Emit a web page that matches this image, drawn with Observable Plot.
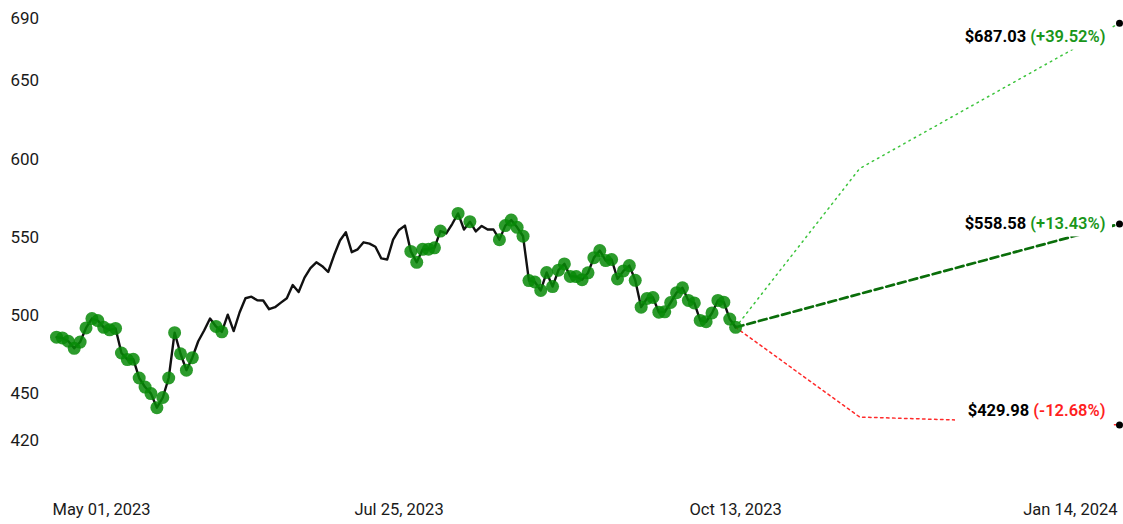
<!DOCTYPE html>
<html><head><meta charset="utf-8">
<script src="https://cdn.jsdelivr.net/npm/d3@7"></script>
<script src="https://cdn.jsdelivr.net/npm/@observablehq/plot@0.6"></script>
<style>
body{margin:0;background:#fff;}
#chart svg{display:block;}
</style></head><body><div id="chart"></div>
<script>
// Daily closes, trading days May 01 2023 .. Oct 13 2023 (index 0..115)
const closes = [
  486.1,485.6,483.5,479,483,492,498,496.7,492.4,490.8,
  491.7,476,471.8,472,460,454.2,450,441,447.5,460,
  489,475.5,465,473,483.5,490.4,498,493,489.5,500.5,
  490,501.9,511,512,509.7,509.6,504,505.3,508.2,511,
  519.5,515,524.2,530.3,534,531.5,527.8,538.5,548,553.2,
  540.5,542.3,546.8,546,544,536.5,535.8,548.5,554.7,557.5,
  541,534,542.3,542.4,543.3,554,552.5,558.5,565.3,555,
  560,553.8,557.3,555,555,548.5,557.5,561,556.4,550.7,
  522.3,521.4,516,527.5,518.5,529,533,525,524.9,522.9,
  527.3,537,541.5,535.1,535.8,523.4,528.5,531.9,522.5,505.3,
  510.9,511.5,502.1,502.3,508.3,514.6,517.7,509.6,508,496.8,
  496,501.6,509.6,508.5,497.7,492.42
];
// 1 = highlighted session (green marker)
const signal = [
  1,1,1,1,1,1,1,1,1,1,
  1,1,1,1,1,1,1,1,1,1,
  1,1,1,1,0,0,0,1,1,0,
  0,0,0,0,0,0,0,0,0,0,
  0,0,0,0,0,0,0,0,0,0,
  0,0,0,0,0,0,0,0,0,0,
  1,1,1,1,1,1,0,0,1,0,
  1,0,0,0,0,1,1,1,1,1,
  1,1,1,1,1,1,1,1,1,1,
  1,1,1,1,1,1,1,1,1,1,
  1,1,1,1,1,1,1,1,1,1,
  1,1,1,1,1,1
];
// Forecast scenarios (index on the same trading-day axis)
const bullIndex = [115, 136, 180];
const bullValues = [492.42, 594, 687.03];
const baseIndex = [115, 180];
const baseValues = [492.42, 558.58];
const bearIndex = [115, 136, 180];
const bearValues = [492.42, 435, 429.98];
const targetPrices = ["$687.03", "$558.58", "$429.98"];
const targetChanges = ["(+39.52%)", "(+13.43%)", "(-12.68%)"];
const targetValues = [687.03, 558.58, 429.98];
const targetColors = ["#1a961a", "#1a961a", "#ff1f1f"];
const targetEnd = 180;
// Axis ticks
const xTickIndex = [0, 58, 115, 180];
const xTickLabels = ["May 01, 2023", "Jul 25, 2023", "Oct 13, 2023", "Jan 14, 2024"];
const yTicks = [420, 450, 500, 550, 600, 650, 690];

const hist = closes.map((v, i) => ({i, v, s: signal[i]}));
const bull = bullIndex.map((i, k) => ({i, v: bullValues[k]}));
const base = baseIndex.map((i, k) => ({i, v: baseValues[k]}));
const bear = bearIndex.map((i, k) => ({i, v: bearValues[k]}));
const targets = targetValues.map((v, k) => ({k, i: targetEnd, v, price: targetPrices[k], change: targetChanges[k], color: targetColors[k]}));
const tickLabel = i => xTickLabels[xTickIndex.indexOf(i)];
const fullLabel = d => d.price + " " + d.change;

// label placement (pixels): vertical offset of each label and its white backing box
const labelDy = [14, 0, -14];
const boxTop = [1, -13, -27];
const boxBottom = [-27, -13, -3];
const labelMarks = [];
targets.forEach((t, k) => {
  labelMarks.push(Plot.rect([t], {x1: "i", x2: "i", y1: "v", y2: "v", fill: "white",
    insetLeft: -164, insetRight: 7, insetTop: boxTop[k], insetBottom: boxBottom[k]}));
});
targets.forEach((t, k) => {
  labelMarks.push(Plot.text([t], {x: "i", y: "v", text: fullLabel, textAnchor: "end", dx: -14, dy: labelDy[k],
    fill: "black", fontSize: 16.5, fontWeight: "bold"}));
});

const plot = Plot.plot({
  width: 1123,
  height: 524,
  marginLeft: 56,
  marginRight: 4,
  marginTop: 18,
  marginBottom: 84,
  style: {fontFamily: "Roboto", fontSize: "16px", color: "#1a1a1a", background: "white"},
  x: {domain: [0, 180]},
  y: {domain: [420, 690]},
  marks: [
    Plot.axisY(yTicks, {anchor: "left", label: null, tickSize: 0, tickPadding: 46, textAnchor: "start", fontSize: 17, tickFormat: d => String(d)}),
    Plot.axisX([0], {label: null, tickSize: 0, tickPadding: 63, textAnchor: "start", dx: -4, fontSize: 16.5, tickFormat: tickLabel}),
    Plot.axisX([58, 115], {label: null, tickSize: 0, tickPadding: 63, fontSize: 16.5, tickFormat: tickLabel}),
    Plot.axisX([180], {label: null, tickSize: 0, tickPadding: 63, textAnchor: "end", dx: -2, fontSize: 16.5, tickFormat: tickLabel}),
    Plot.line(bull, {x: "i", y: "v", stroke: "#3cc43c", strokeWidth: 1.5, strokeDasharray: "1.5,4.5"}),
    Plot.line(base, {x: "i", y: "v", stroke: "#0a6e0a", strokeWidth: 2.7, strokeDasharray: "8,4"}),
    Plot.line(bear, {x: "i", y: "v", stroke: "#ff2a2a", strokeWidth: 1.5, strokeDasharray: "2.5,3.5"}),
    Plot.line(hist, {x: "i", y: "v", stroke: "#111", strokeWidth: 2.4}),
    Plot.dot(hist.filter(d => d.s), {x: "i", y: "v", r: 6.5, fill: "#078a07", fillOpacity: 0.85, stroke: "none"}),
    ...labelMarks,
    Plot.dot(targets, {x: "i", y: "v", r: 3.5, fill: "black"})
  ]
});

const ns = "http://www.w3.org/2000/svg";
plot.querySelectorAll("text").forEach(el => {
  const full = el.textContent;
  const t = targets.find(d => full === fullLabel(d));
  if (!t) return;
  el.textContent = "";
  const a = document.createElementNS(ns, "tspan");
  a.textContent = t.price + " ";
  a.setAttribute("fill", "black");
  a.setAttribute("font-weight", "bold");
  const b = document.createElementNS(ns, "tspan");
  b.textContent = t.change;
  b.setAttribute("fill", t.color);
  b.setAttribute("font-weight", "600");
  el.appendChild(a);
  el.appendChild(b);
});

document.getElementById("chart").appendChild(plot);
</script>
</body></html>
